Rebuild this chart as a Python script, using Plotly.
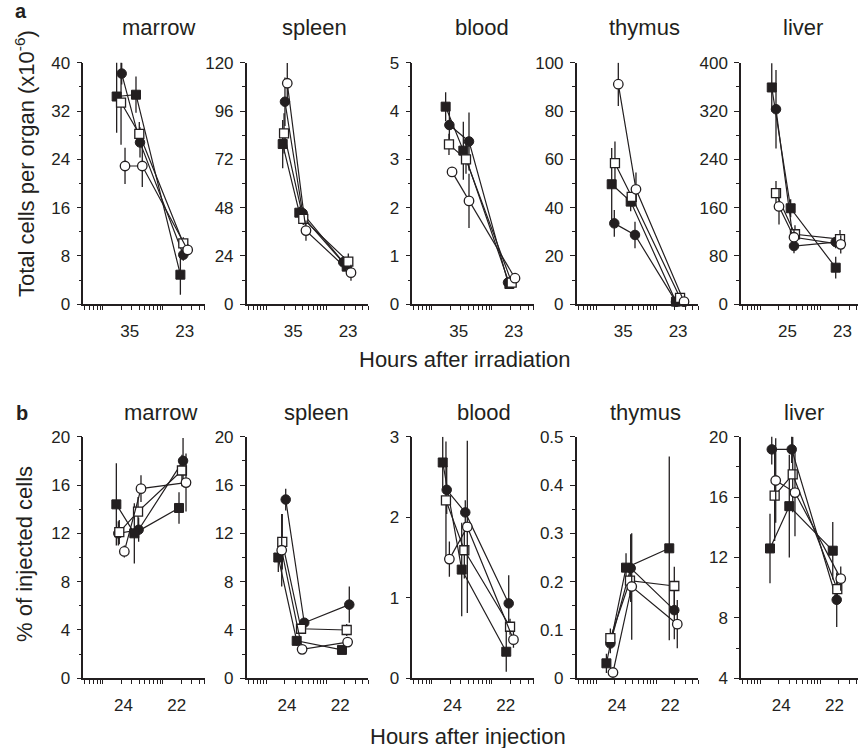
import plotly.graph_objects as go

# ---------------- data ----------------
ORGANS = ["marrow", "spleen", "blood", "thymus", "liver"]
SERIES = ["filled square", "open square", "filled circle", "open circle"]

A_XTICK_VALS = [2.8, 23]
A_XTICK_TEXT = [["35", "23"], ["35", "23"], ["35", "23"], ["35", "23"], ["25", "23"]]
B_XTICK_VALS = [2.2, 17]
B_XTICK_TEXT = [["24", "22"], ["24", "22"], ["24", "22"], ["24", "22"], ["24", "22"]]

A_XTITLE = "Hours after irradiation"
B_XTITLE = "Hours after injection"
A_YTITLE = "Total cells per organ (x10<sup>-6</sup>)"
B_YTITLE = "% of injected cells"

# series order in each list: filled square, open square, filled circle, open circle
# ---- row a ----
a_marrow_x = [[1.69, 3.55, 19.5], [2.00, 4.03, 21.8], [2.05, 4.14, 21.8], [2.33, 4.52, 25.8]]
a_marrow_y = [[34.4, 34.7, 4.9], [33.4, 28.2, 10.1], [38.2, 26.8, 8.2], [22.9, 22.9, 9.0]]
a_marrow_e = [[6.0, 3.0, 3.3], [7.0, 2.0, 1.0], [1.8, 2.5, 1.0], [3.0, 3.5, 1.0]]

a_spleen_x = [[1.87, 3.54, 21.8], [1.97, 4.12, 23.2], [2.04, 4.03, 19.1], [2.23, 4.57, 25.7]]
a_spleen_y = [[79.6, 45.5, 18.7], [84.9, 42.4, 21.2], [100.6, 45.2, 20.9], [109.8, 36.6, 15.7]]
a_spleen_e = [[12, 3, 3], [10, 3, 4], [12, 3, 3], [10, 5, 4]]

a_blood_x = [[1.69, 3.33, 19.5], [1.92, 3.69, 21.3], [1.95, 4.14, 18.5], [2.16, 4.14, 24.2]]
a_blood_y = [[4.09, 3.18, 0.42], [3.31, 3.0, 0.45], [3.71, 3.37, 0.45], [2.74, 2.14, 0.54]]
a_blood_e = [[0.3, 0.6, 0.1], [0.22, 0.3, 0.1], [0.3, 0.6, 0.1], [0.1, 0.56, 0.1]]

a_thymus_x = [[1.80, 3.73, 21.2], [2.04, 3.88, 24.8], [1.99, 4.40, 21.2], [2.32, 4.57, 28.9]]
a_thymus_y = [[49.7, 42.5, 1.1], [58.4, 44.5, 2.7], [33.5, 28.7, 1.0], [91.1, 47.6, 1.1]]
a_thymus_e = [[15, 4, 1], [9, 4, 1], [5.5, 5.5, 1], [9, 7, 1]]

a_liver_x = [[1.53, 3.16, 17.8], [1.80, 3.73, 21.0], [1.80, 3.59, 17.8], [2.02, 3.59, 21.6]]
a_liver_y = [[359, 159, 60.6], [184, 116, 108], [323, 96.5, 103], [162, 111, 99.3]]
a_liver_e = [[40, 15, 18], [20, 15, 15], [65, 12, 10], [30, 12, 15]]

# ---- row b ----
b_marrow_x = [[1.67, 3.33, 18.5], [1.87, 3.84, 20.7], [1.80, 3.93, 21.6], [2.27, 4.30, 24.2]]
b_marrow_y = [[14.4, 12.0, 14.1], [12.1, 13.8, 17.2], [12.0, 12.3, 18.0], [10.5, 15.7, 16.2]]
b_marrow_e = [[3.4, 2.5, 1.3], [1.0, 1.2, 1.3], [1.0, 1.0, 1.9], [0.5, 1.1, 2.4]]

b_spleen_x = [[1.58, 3.20, 18.2], [1.84, 3.78, 21.8], [2.10, 4.28, 24.1], [1.80, 3.94, 22.6]]
b_spleen_y = [[10.0, 3.1, 2.35], [11.3, 4.1, 4.0], [14.8, 4.6, 6.1], [10.6, 2.4, 3.0]]
b_spleen_e = [[1.2, 0.4, 0.3], [2.3, 0.3, 0.5], [0.9, 0.3, 1.5], [3.0, 0.3, 0.4]]

b_blood_x = [[1.51, 3.13, 17.3], [1.71, 3.46, 20.0], [1.76, 3.59, 19.0], [1.95, 3.88, 22.8]]
b_blood_y = [[2.68, 1.35, 0.33], [2.21, 1.59, 0.64], [2.34, 2.06, 0.93], [1.48, 1.88, 0.48]]
b_blood_e = [[0.32, 0.58, 0.25], [0.73, 0.35, 0.1], [0.3, 0.15, 0.35], [0.22, 1.07, 0.1]]

b_thymus_x = [[1.47, 3.12, 16.4], [1.71, 3.63, 19.9], [1.71, 3.73, 19.9], [1.89, 3.88, 22.3]]
b_thymus_y = [[0.031, 0.229, 0.269], [0.083, 0.202, 0.191], [0.072, 0.228, 0.141], [0.012, 0.19, 0.112]]
b_thymus_e = [[0.02, 0.03, 0.19], [0.02, 0.03, 0.04], [0.02, 0.07, 0.06], [0.01, 0.11, 0.05]]

b_liver_x = [[1.43, 3.00, 15.9], [1.71, 3.42, 18.9], [1.53, 3.29, 18.5], [1.78, 3.73, 21.6]]
b_liver_y = [[12.6, 15.4, 12.45], [16.1, 17.5, 9.9], [19.16, 19.16, 9.2], [17.1, 16.3, 10.6]]
b_liver_e = [[2.3, 3.4, 1.9], [3.0, 2.5, 1.0], [1.0, 0.9, 1.8], [2.8, 2.9, 0.8]]

# y axis ticks (major tick values)
A_YTICKS = [[0, 8, 16, 24, 32, 40], [0, 24, 48, 72, 96, 120], [0, 1, 2, 3, 4, 5],
            [0, 20, 40, 60, 80, 100], [0, 80, 160, 240, 320, 400]]
B_YTICKS = [[0, 4, 8, 12, 16, 20], [0, 4, 8, 12, 16, 20], [0, 1, 2, 3],
            [0, 0.1, 0.2, 0.3, 0.4, 0.5], [4, 8, 12, 16, 20]]
B_YMINOR = [True, True, False, True, True]

XMINOR = [0.5, 0.6, 0.7, 0.8, 0.9, 1, 2, 3, 4, 5, 6, 7, 8, 9, 10, 20, 30, 40, 50]

ROW_A = [(a_marrow_x, a_marrow_y, a_marrow_e), (a_spleen_x, a_spleen_y, a_spleen_e),
         (a_blood_x, a_blood_y, a_blood_e), (a_thymus_x, a_thymus_y, a_thymus_e),
         (a_liver_x, a_liver_y, a_liver_e)]
ROW_B = [(b_marrow_x, b_marrow_y, b_marrow_e), (b_spleen_x, b_spleen_y, b_spleen_e),
         (b_blood_x, b_blood_y, b_blood_e), (b_thymus_x, b_thymus_y, b_thymus_e),
         (b_liver_x, b_liver_y, b_liver_e)]

# ---------------- layout constants ----------------
W, H = 858, 748
FONT = "Liberation Sans, Arial, Helvetica, sans-serif"
INK = "#231f20"
PANEL_X0 = [83.3, 246.7, 412.3, 576.7, 741.0]
PX_PER_DECADE = 60.0
LOG_LEFT = -0.328
LOG_RIGHT = 1.699
ROW_Y = [(62.7, 304.3), (436.7, 678.3)]
TITLE_X = [[158, 314, 482, 644, 803], [160, 316, 484, 645.5, 804]]
TITLE_Y = [27, 412]

MARKERS = [
    dict(symbol="square", size=9, color=INK, line=dict(color=INK, width=1)),
    dict(symbol="square", size=9, color="white", line=dict(color=INK, width=1.3)),
    dict(symbol="circle", size=9.5, color=INK, line=dict(color=INK, width=1)),
    dict(symbol="circle", size=9.5, color="white", line=dict(color=INK, width=1.3)),
]
DRAW_ORDER = [2, 0, 1, 3]

fig = go.Figure()
layout = dict(width=W, height=H, margin=dict(l=0, r=0, t=0, b=0, autoexpand=False),
              paper_bgcolor="white", plot_bgcolor="white", showlegend=False,
              font=dict(family=FONT, color=INK))
annotations = []

for r, (rows, yticks, xtv, xtt) in enumerate([(ROW_A, A_YTICKS, A_XTICK_VALS, A_XTICK_TEXT),
                                              (ROW_B, B_YTICKS, B_XTICK_VALS, B_XTICK_TEXT)]):
    ytop, ybot = ROW_Y[r]
    for c in range(5):
        idx = r * 5 + c + 1
        xn = "x" if idx == 1 else f"x{idx}"
        yn = "y" if idx == 1 else f"y{idx}"
        x0 = PANEL_X0[c]
        x1 = min(x0 + (LOG_RIGHT - LOG_LEFT) * PX_PER_DECADE, W)
        right = LOG_LEFT + (x1 - x0) / PX_PER_DECADE
        xs, ys, es = rows[c]
        for s in DRAW_ORDER:
            fig.add_trace(go.Scatter(
                x=xs[s], y=ys[s], xaxis=xn, yaxis=yn, mode="lines+markers",
                name=SERIES[s], cliponaxis=False,
                line=dict(color=INK, width=1.2), marker=MARKERS[s],
                error_y=dict(type="data", array=es[s], visible=True, width=0,
                             thickness=1.3, color=INK)))
        tv = yticks[c]
        step = tv[1] - tv[0]
        if r == 1 and not B_YMINOR[c]:
            yminor = []
        else:
            yminor = [tv[i] + step / 2 for i in range(len(tv) - 1)]
        layout["xaxis" if idx == 1 else f"xaxis{idx}"] = dict(
            type="log", range=[LOG_LEFT, right], domain=[x0 / W, x1 / W], anchor=yn,
            automargin=False,
            showline=True, linecolor=INK, linewidth=1.5, showgrid=False, zeroline=False,
            ticks="", tickmode="array", tickvals=xtv, ticktext=xtt[c],
            tickfont=dict(size=17, family=FONT, color=INK), ticklabelstandoff=11,
            minor=dict(tickmode="array", tickvals=XMINOR, ticks="outside", ticklen=4,
                       tickwidth=1, tickcolor=INK, showgrid=False))
        layout["yaxis" if idx == 1 else f"yaxis{idx}"] = dict(
            range=[tv[0], tv[-1]], domain=[1 - ybot / H, 1 - ytop / H], anchor=xn,
            automargin=False,
            showline=True, linecolor=INK, linewidth=1.5, showgrid=False, zeroline=False,
            ticks="outside", ticklen=5, tickwidth=1.3, tickcolor=INK, ticklabelstandoff=3,
            tickmode="array", tickvals=tv, tickfont=dict(size=17, family=FONT, color=INK),
            minor=dict(tickmode="array", tickvals=yminor, ticks="outside", ticklen=3,
                       tickwidth=1, tickcolor=INK, showgrid=False))
        annotations.append(dict(text=ORGANS[c], xref="paper", yref="paper",
                                x=TITLE_X[r][c] / W, y=1 - TITLE_Y[r] / H,
                                xanchor="center", yanchor="middle", showarrow=False,
                                font=dict(size=22, family=FONT, color=INK)))

# axis titles and panel letters
annotations += [
    dict(text=A_XTITLE, xref="paper", yref="paper", x=465 / W, y=1 - 359 / H,
         xanchor="center", yanchor="middle", showarrow=False, font=dict(size=22)),
    dict(text=B_XTITLE, xref="paper", yref="paper", x=468 / W, y=1 - 736 / H,
         xanchor="center", yanchor="middle", showarrow=False, font=dict(size=22)),
    dict(text=A_YTITLE, xref="paper", yref="paper", x=25 / W, y=1 - 164 / H, textangle=-90,
         xanchor="center", yanchor="middle", showarrow=False, font=dict(size=22)),
    dict(text=B_YTITLE, xref="paper", yref="paper", x=24 / W, y=1 - 554 / H, textangle=-90,
         xanchor="center", yanchor="middle", showarrow=False, font=dict(size=22)),
    dict(text="<b>a</b>", xref="paper", yref="paper", x=21 / W, y=1 - 11 / H,
         xanchor="center", yanchor="middle", showarrow=False, font=dict(size=20)),
    dict(text="<b>b</b>", xref="paper", yref="paper", x=22 / W, y=1 - 413 / H,
         xanchor="center", yanchor="middle", showarrow=False, font=dict(size=20)),
]
layout["annotations"] = annotations
fig.update_layout(**layout)
fig.write_html("out.html", config={"displayModeBar": False},
               post_script="document.body.style.margin='0px';")
